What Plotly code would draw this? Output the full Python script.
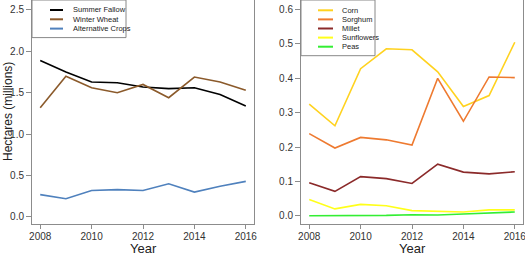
import plotly.graph_objects as go

years = [2008, 2009, 2010, 2011, 2012, 2013, 2014, 2015, 2016]

summer_fallow = [1.89, 1.75, 1.63, 1.62, 1.57, 1.55, 1.56, 1.48, 1.34]
winter_wheat = [1.32, 1.70, 1.56, 1.50, 1.60, 1.44, 1.69, 1.63, 1.53]
alternative_crops = [0.27, 0.22, 0.32, 0.33, 0.32, 0.40, 0.30, 0.37, 0.43]

corn = [0.325, 0.262, 0.428, 0.486, 0.483, 0.419, 0.318, 0.350, 0.505]
sorghum = [0.239, 0.197, 0.228, 0.221, 0.206, 0.400, 0.275, 0.404, 0.402]
millet = [0.096, 0.071, 0.114, 0.108, 0.094, 0.150, 0.127, 0.122, 0.128]
sunflowers = [0.047, 0.020, 0.033, 0.029, 0.015, 0.014, 0.011, 0.017, 0.017]
peas = [0.000, 0.000, 0.000, 0.001, 0.003, 0.002, 0.005, 0.007, 0.011]

left_names = ["Summer Fallow", "Winter Wheat", "Alternative Crops"]
left_series = [summer_fallow, winter_wheat, alternative_crops]
left_colors = ["#000000", "#8B5A2B", "#4F81BD"]

right_names = ["Corn", "Sorghum", "Millet", "Sunflowers", "Peas"]
right_series = [corn, sorghum, millet, sunflowers, peas]
right_colors = ["#FFD21F", "#EE7A30", "#8B2A2A", "#FFFF1A", "#33EE33"]

left_ticks = [0.0, 0.5, 1.0, 1.5, 2.0, 2.5]
right_ticks = [0.0, 0.1, 0.2, 0.3, 0.4, 0.5, 0.6]
x_ticks = [2008, 2010, 2012, 2014, 2016]

W, H = 525, 253
FONT = "Liberation Sans, Arial, Helvetica, sans-serif"

fig = go.Figure()
for name, vals, col in zip(left_names, left_series, left_colors):
    fig.add_trace(go.Scatter(x=years, y=vals, mode="lines", name=name,
                             line=dict(color=col, width=1.6), xaxis="x", yaxis="y",
                             showlegend=False))
for name, vals, col in zip(right_names, right_series, right_colors):
    fig.add_trace(go.Scatter(x=years, y=vals, mode="lines", name=name,
                             line=dict(color=col, width=1.6), xaxis="x2", yaxis="y2",
                             showlegend=False))

axcol = "#8c8c8c"
tickfont = dict(family=FONT, size=10, color="#333333")
xcommon = dict(range=[2007.68, 2016.32], tickvals=x_ticks, ticks="outside", ticklen=4,
               tickcolor=axcol, showline=True, linecolor=axcol, linewidth=1, mirror=True,
               showgrid=False, zeroline=False, tickfont=tickfont, automargin=False,
               ticklabeloverflow="allow", ticklabelstandoff=-1)
ycommon = dict(ticks="outside", ticklen=5, tickcolor=axcol, tickformat=".1f",
               showline=True, linecolor=axcol, linewidth=1, mirror=True,
               showgrid=False, zeroline=False, tickfont=tickfont, automargin=False,
               ticklabeloverflow="allow")

x1dom = [32 / W, 254 / W]
x2dom = [301 / W, 523 / W]
ydom = [29 / H, 1.0]

fig.update_layout(
    width=W, height=H,
    margin=dict(l=0, r=0, t=0, b=0, autoexpand=False),
    paper_bgcolor="white", plot_bgcolor="white",
    xaxis=dict(domain=x1dom, anchor="y", **xcommon),
    xaxis2=dict(domain=x2dom, anchor="y2", **xcommon),
    yaxis=dict(domain=ydom, anchor="x", range=[-0.085, 2.62], tickvals=left_ticks, **ycommon),
    yaxis2=dict(domain=ydom, anchor="x2", range=[-0.024, 0.628], tickvals=right_ticks, **ycommon),
    showlegend=False,
)

titlefont = dict(family=FONT, size=13, color="#222222")
for xc in [(x1dom[0] + x1dom[1]) / 2, (x2dom[0] + x2dom[1]) / 2]:
    fig.add_annotation(xref="paper", yref="paper", x=xc, y=1 - 248.5 / H, text="Year",
                       showarrow=False, xanchor="center", yanchor="middle", font=titlefont)
fig.add_annotation(xref="paper", yref="paper", x=8 / W, y=1 - 112 / H,
                   text="Hectares (millions)", textangle=-90, showarrow=False,
                   xanchor="center", yanchor="middle",
                   font=dict(family=FONT, size=12, color="#222222"))

# Manual compact legends (R-style legend boxes)
def add_legend(names, colors, x0, x1, row_y0, row_step, line_x0, line_x1, text_x):
    n = len(names)
    bottom = row_y0 + row_step * (n - 1) + 9
    fig.add_shape(type="rect", xref="paper", yref="paper",
                  x0=x0 / W, x1=x1 / W, y0=1 - bottom / H, y1=1.0,
                  line=dict(color="#888888", width=1), fillcolor="white", layer="above")
    for i, (nm, col) in enumerate(zip(names, colors)):
        yy = row_y0 + i * row_step
        fig.add_shape(type="line", xref="paper", yref="paper",
                      x0=line_x0 / W, x1=line_x1 / W, y0=1 - yy / H, y1=1 - yy / H,
                      line=dict(color=col, width=2), layer="above")
        fig.add_annotation(xref="paper", yref="paper", x=text_x / W, y=1 - yy / H,
                           text=nm, showarrow=False, xanchor="left", yanchor="middle",
                           font=dict(family=FONT, size=7.5, color="#222222"))

add_legend(left_names, left_colors, 32, 126, 10, 9.3, 50, 63, 71)
add_legend(right_names, right_colors, 301, 375, 10.3, 9.1, 318, 333, 340)

fig.write_html("out.html", config={"displayModeBar": False},
               post_script="document.body.style.margin='0';document.body.style.overflow='hidden';")
